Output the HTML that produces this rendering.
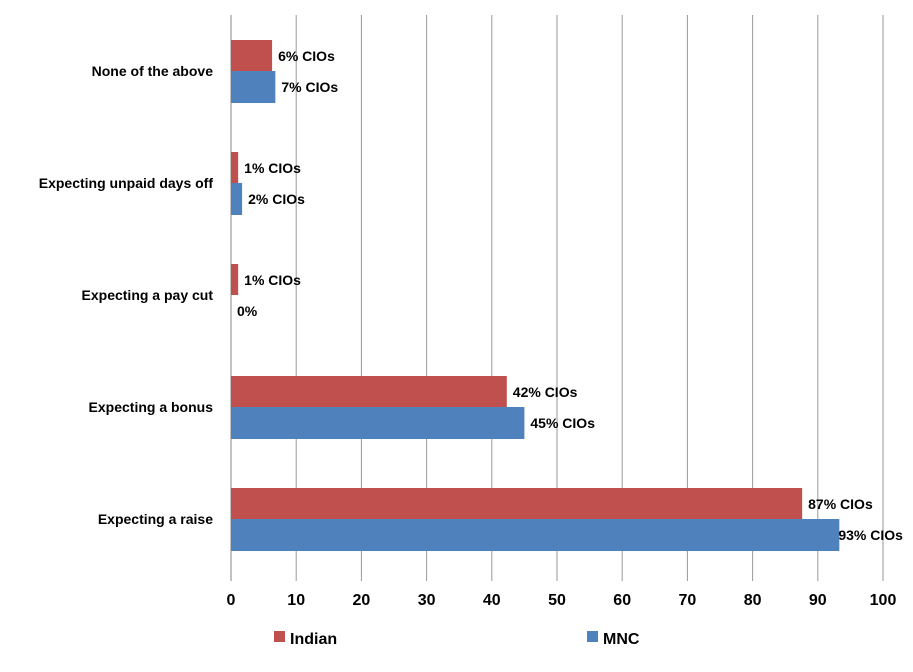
<!DOCTYPE html>
<html><head><meta charset="utf-8"><style>
body{margin:0;background:#fff;}
svg{font-family:"Liberation Sans",sans-serif;font-weight:bold;}
</style></head><body>
<svg width="913" height="667">
<g id="grid"></g>
<g id="bars"></g>
<g id="labels"></g>
<g>
<rect x="274" y="631" width="11" height="11" fill="#c0504d"/>
<text x="290" y="644" font-size="16">Indian</text>
<rect x="587" y="631" width="11" height="11" fill="#4f81bd"/>
<text x="603" y="644" font-size="16">MNC</text>
</g>
</svg>
<script>
const categories=["None of the above","Expecting unpaid days off","Expecting a pay cut","Expecting a bonus","Expecting a raise"];
const indian=[6.3,1.1,1.1,42.3,87.6];
const mnc=[6.8,1.7,0,45,93.3];
const indianLabels=["6% CIOs","1% CIOs","1% CIOs","42% CIOs","87% CIOs"];
const mncLabels=["7% CIOs","2% CIOs","0%","45% CIOs","93% CIOs"];
const ticks=[0,10,20,30,40,50,60,70,80,90,100];
const NS="http://www.w3.org/2000/svg";
const x0=231,x1=883,yTop=15,yBot=575;
const xs=v=>x0+(x1-x0)*v/100;
const band=(yBot-yTop)/categories.length;
const yc=i=>yTop+band*(i+0.5);
function mk(t,a,p){const e=document.createElementNS(NS,t);for(const k in a)e.setAttribute(k,a[k]);p.appendChild(e);return e;}
const g=document.getElementById('grid'),b=document.getElementById('bars'),l=document.getElementById('labels');
ticks.forEach(t=>{
 const ln=mk('line',{x1:xs(t),x2:xs(t),y1:yTop,y2:yBot+6,stroke:t===0?'#868686':'#999','stroke-width':1},g);
 
 
 const tx=mk('text',{x:xs(t),y:605,'font-size':16,'text-anchor':'middle'},g);
 tx.textContent=t;
 
 
});
categories.forEach((c,i)=>{
 const y=yc(i);
 const ct=mk('text',{x:213,y:y+5,'font-size':14,'text-anchor':'end'},l);
 ct.textContent=c;
 
 
 const r1=mk('rect',{x:x0,y:y-31,width:Math.max(0,xs(indian[i])-x0),height:31,fill:'#c0504d'},b);
 
 
 const r2=mk('rect',{x:x0,y:y,width:Math.max(0,xs(mnc[i])-x0),height:32,fill:'#4f81bd'},b);
 
 
 const t1=mk('text',{x:xs(indian[i])+6,y:y-10,'font-size':14},l);
 t1.textContent=indianLabels[i];
 
 
 const t2=mk('text',{x:xs(mnc[i])+(mnc[i]>90?-1:6),y:y+21,'font-size':14},l);
 t2.textContent=mncLabels[i];
 
 
});
</script>
</body></html>
